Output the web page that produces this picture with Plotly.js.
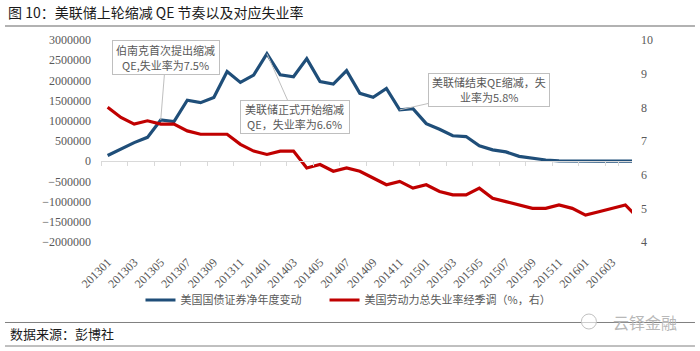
<!DOCTYPE html>
<html>
<head>
<meta charset="utf-8">
<script src="https://cdn.plot.ly/plotly-3.0.1.min.js"></script>
<style>
html,body{margin:0;padding:0;background:#fff;}
#chart{width:700px;height:351px;}
</style>
</head>
<body>
<div id="chart"></div>
<script>
// Months (monthly, 201301 - 201605; axis shows through 201604)
const months = ["201301","201302","201303","201304","201305","201306","201307","201308","201309","201310","201311","201312",
"201401","201402","201403","201404","201405","201406","201407","201408","201409","201410","201411","201412",
"201501","201502","201503","201504","201505","201506","201507","201508","201509","201510","201511","201512",
"201601","201602","201603","201604","201605"];
// Labelled ticks (every second month)
const tickLabels = ["201301","201303","201305","201307","201309","201311","201401","201403","201405","201407","201409","201411",
"201501","201503","201505","201507","201509","201511","201601","201603"];
const boundaryTicks = tickLabels.concat(["201605"]);
// 美国国债证券净年度变动
const treasuryNetChange = [140000,300000,460000,590000,1020000,980000,1510000,1450000,1580000,2220000,1950000,2130000,
2660000,2140000,2090000,2540000,1970000,1910000,2240000,1680000,1580000,1800000,1270000,1300000,
930000,790000,630000,610000,380000,280000,230000,120000,70000,30000,10000,0,
0,0,0,0,0];
// 美国劳动力总失业率经季调（%）
const unemploymentRate = [8.0,7.7,7.5,7.6,7.5,7.5,7.3,7.2,7.2,7.2,6.9,6.7,
6.6,6.7,6.7,6.2,6.3,6.1,6.2,6.1,5.9,5.7,5.8,5.6,
5.7,5.5,5.4,5.4,5.6,5.3,5.2,5.1,5.0,5.0,5.1,5.0,
4.8,4.9,5.0,5.1,4.7];
const seriesNames = ["美国国债证券净年度变动","美国劳动力总失业率经季调（%，右）"];
const callouts = [
  {month:"201305", lines:["伯南克首次提出缩减","QE,失业率为7.5%"], w:104, h:31, ax:5, ay:-62},
  {month:"201401", lines:["美联储正式开始缩减","QE，失业率为6.6%"], w:106, h:30, ax:28, ay:63},
  {month:"201411", lines:["美联储结束QE缩减，失","业率为5.8%"], w:118, h:30, ax:89, ay:-20}
];

const serif = "Liberation Serif, Times New Roman, serif";
const cjk = "Noto Sans CJK SC, sans-serif";
const grey = "#595959";

const traces = [
  {x: months, y: treasuryNetChange, name: seriesNames[0], type: "scatter", mode: "lines",
   line: {color: "#1f4e79", width: 3.2}, xaxis: "x", yaxis: "y", legend: "legend"},
  {x: months, y: unemploymentRate, name: seriesNames[1], type: "scatter", mode: "lines",
   line: {color: "#c00000", width: 3.2}, xaxis: "x2", yaxis: "y2", legend: "legend2"}
];

const annotations = [];
callouts.forEach(c => {
  const i = months.indexOf(c.month);
  // callout box with leader line
  annotations.push({
    x: i, y: treasuryNetChange[i], xref: "x", yref: "y",
    text: " ", showarrow: true, arrowhead: 0, arrowwidth: 1, arrowcolor: "#bfbfbf",
    ax: c.ax, ay: c.ay, axref: "pixel", ayref: "pixel", width: c.w, height: c.h,
    bordercolor: "#bfbfbf", borderwidth: 1, borderpad: 1, bgcolor: "#ffffff"
  });
  // the two text lines inside the box
  c.lines.forEach((t, k) => {
    annotations.push({
      x: i, y: treasuryNetChange[i], xref: "x", yref: "y", showarrow: false,
      text: t, xshift: c.ax, yshift: -c.ay + (k === 0 ? 7.5 : -7.5),
      xanchor: "center", yanchor: "middle",
      font: {family: cjk, size: 11, color: grey}
    });
  });
});
annotations.push({
  xref: "paper", yref: "paper", x: -0.1751, y: -0.4554, xanchor: "left", yanchor: "middle",
  text: "数据来源：彭博社", showarrow: false, font: {family: cjk, size: 13, color: "#1a1a1a"}
});
annotations.push({
  xref: "paper", yref: "paper", x: 0.96, y: -0.395, xanchor: "left", yanchor: "middle",
  text: "云铎金融", showarrow: false, font: {family: cjk, size: 16, color: "#b8b8b8"}
});

const legendBase = {orientation: "h", xref: "container", yref: "container", xanchor: "left",
  y: 1 - 300/351, yanchor: "middle", font: {family: cjk, size: 11, color: grey},
  itemwidth: 30, bgcolor: "rgba(0,0,0,0)"};

const layout = {
  width: 700, height: 351,
  margin: {l: 101, r: 68, t: 40, b: 109, pad: 0},
  paper_bgcolor: "#ffffff", plot_bgcolor: "#ffffff",
  title: {text: "图 10：美联储上轮缩减 QE 节奏以及对应失业率", xref: "container", yref: "container",
          x: 8/700, xanchor: "left", y: 1 - 13/351, yanchor: "middle",
          font: {family: cjk, size: 14, color: "#1a1a1a"}},
  showlegend: true,
  legend: Object.assign({}, legendBase, {x: 0.2007}),
  legend2: Object.assign({}, legendBase, {x: 0.4636}),
  xaxis: {type: "category", categoryorder: "array", categoryarray: months, range: [-0.5, 39.5],
          anchor: "y", showline: false, showgrid: false, zeroline: false, ticks: "",
          tickmode: "array", tickvals: tickLabels, ticktext: tickLabels, tickangle: -45,
          tickfont: {family: serif, size: 12, color: grey}, ticklabelstandoff: 10, fixedrange: true},
  xaxis2: {type: "category", categoryorder: "array", categoryarray: months, range: [-0.5, 39.5],
           overlaying: "x", anchor: "free", position: 0.4, showline: true, linecolor: "#d9d9d9", linewidth: 1,
           ticks: "outside", ticklen: 4, tickcolor: "#d9d9d9", tickwidth: 1, tickson: "boundaries",
           tickmode: "array", tickvals: boundaryTicks, showticklabels: false, showgrid: false, zeroline: false, fixedrange: true},
  yaxis: {range: [-2000000, 3000000], dtick: 500000, tick0: 0, tickformat: "d", showgrid: false, zeroline: false,
          showline: false, ticks: "", tickfont: {family: serif, size: 12, color: grey}, ticklabelstandoff: 9, fixedrange: true},
  yaxis2: {range: [4, 10], dtick: 1, overlaying: "y", side: "right", anchor: "x", showgrid: false, zeroline: false,
           showline: false, ticks: "", tickfont: {family: serif, size: 12, color: grey}, ticklabelstandoff: 8, fixedrange: true},
  annotations: annotations,
  shapes: [
    {type: "line", xref: "paper", yref: "paper", x0: -0.1808, x1: 1.1186, y0: 1.0693, y1: 1.0693,
     line: {color: "#666666", width: 1.2}},
    {type: "line", xref: "paper", yref: "paper", x0: -0.1808, x1: 1.1186, y0: -0.3985, y1: -0.3985,
     line: {color: "#808080", width: 1}},
    {type: "line", xref: "paper", yref: "paper", x0: -0.1808, x1: 1.1186, y0: -0.5149, y1: -0.5149,
     line: {color: "#808080", width: 1}},
    {type: "circle", xref: "paper", yref: "paper", x0: 0.9047, x1: 0.9330, y0: -0.3565, y1: -0.4307,
     line: {color: "#c0c0c0", width: 1}, fillcolor: "rgba(255,255,255,0.6)"}
  ],
  hovermode: false
};

Plotly.newPlot("chart", traces, layout, {displayModeBar: false, staticPlot: true});
</script>
</body>
</html>
